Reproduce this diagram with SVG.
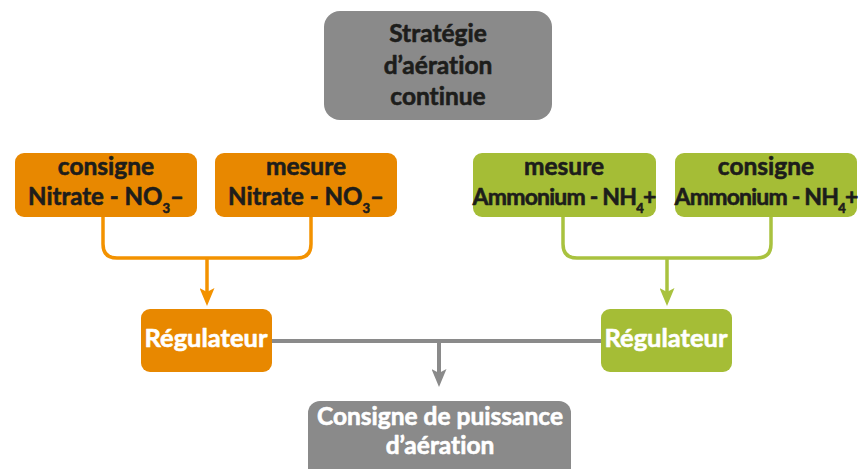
<svg xmlns="http://www.w3.org/2000/svg" width="859" height="469" viewBox="0 0 859 469">
<style>
.t{font-family:Lato,"Open Sans","Liberation Sans",sans-serif;font-weight:bold;text-anchor:middle;font-variant-ligatures:none;stroke-width:0.6;stroke-linejoin:round}
.dk{fill:#1d1d1b;stroke:#1d1d1b}
.wh{fill:#ffffff;stroke:#ffffff}
.or{fill:#E88800}
.gr{fill:#A5BD36}
.gy{fill:#8A8A8A}
.lo{fill:none;stroke:#F39200;stroke-width:3.5}
.lg{fill:none;stroke:#A9C23F;stroke-width:3.5}
.ly{fill:none;stroke:#8A8A8A;stroke-width:4}
</style>
<defs>
<marker id="ao" markerUnits="userSpaceOnUse" viewBox="0 0 18 15" refX="6" refY="7.5" markerWidth="18" markerHeight="15" orient="auto"><path d="M0,0 L18,7.5 L0,15 L4,7.5 Z" fill="#F39200"/></marker>
<marker id="ag" markerUnits="userSpaceOnUse" viewBox="0 0 18 15" refX="6" refY="7.5" markerWidth="18" markerHeight="15" orient="auto"><path d="M0,0 L18,7.5 L0,15 L4,7.5 Z" fill="#A9C23F"/></marker>
<marker id="ay" markerUnits="userSpaceOnUse" viewBox="0 0 18 15" refX="6" refY="7.5" markerWidth="18" markerHeight="15" orient="auto"><path d="M0,0 L18,7.5 L0,15 L4,7.5 Z" fill="#8A8A8A"/></marker>
</defs>

<g id="connectors">
<path class="lo" d="M103,217 V244 Q103,258 117,258 H297 Q311,258 311,244 V217"/>
<path class="lo" d="M207,258 V294" marker-end="url(#ao)"/>
<path class="lg" d="M563,217 V244 Q563,258 577,258 H757 Q771,258 771,244 V217"/>
<path class="lg" d="M667,258 V294" marker-end="url(#ag)"/>
<path class="ly" d="M272,341 H601"/>
<path class="ly" d="M439,341 V375" marker-end="url(#ay)"/>
</g>

<g id="strategie">
<rect class="gy" x="324" y="11" width="228" height="109" rx="16"/>
<text class="t dk" x="438" y="42" font-size="24.5">Stratégie</text>
<text class="t dk" x="438" y="74" font-size="24.5">d’aération</text>
<text class="t dk" x="438" y="105" font-size="24.5">continue</text>
</g>

<g id="consigne-nitrate">
<rect class="or" x="15" y="153" width="182" height="64" rx="9"/>
<text class="t dk" x="106" y="175" font-size="24.5">consigne</text>
<text class="t dk" x="106" y="205" font-size="24">Nitrate - NO<tspan font-size="13" dy="8">3</tspan><tspan dy="-8">–</tspan></text>
</g>

<g id="mesure-nitrate">
<rect class="or" x="215" y="153" width="182" height="64" rx="9"/>
<text class="t dk" x="306" y="175" font-size="24.5">mesure</text>
<text class="t dk" x="306" y="205" font-size="24">Nitrate - NO<tspan font-size="13" dy="8">3</tspan><tspan dy="-8">–</tspan></text>
</g>

<g id="mesure-ammonium">
<rect class="gr" x="473" y="153" width="183" height="64" rx="9"/>
<text class="t dk" x="564" y="175" font-size="24.5">mesure</text>
<text class="t dk" x="564" y="205" font-size="23" letter-spacing="-0.8">Ammonium - NH<tspan font-size="13" dy="8">4</tspan><tspan dy="-8">+</tspan></text>
</g>

<g id="consigne-ammonium">
<rect class="gr" x="675" y="153" width="182" height="64" rx="9"/>
<text class="t dk" x="766" y="175" font-size="24.5">consigne</text>
<text class="t dk" x="766" y="205" font-size="23" letter-spacing="-0.8">Ammonium - NH<tspan font-size="13" dy="8">4</tspan><tspan dy="-8">+</tspan></text>
</g>

<g id="regulateur-nitrate">
<rect class="or" x="141" y="309" width="131" height="63" rx="9"/>
<text class="t wh" x="206" y="347" font-size="25.5">Régulateur</text>
</g>

<g id="regulateur-ammonium">
<rect class="gr" x="601" y="309" width="131" height="63" rx="9"/>
<text class="t wh" x="666" y="347" font-size="25.5">Régulateur</text>
</g>

<g id="consigne-puissance">
<rect class="gy" x="308" y="401" width="263" height="90" rx="12"/>
<text class="t wh" x="440" y="425" font-size="24.5">Consigne de puissance</text>
<text class="t wh" x="440" y="454" font-size="24.5">d’aération</text>
</g>
</svg>
